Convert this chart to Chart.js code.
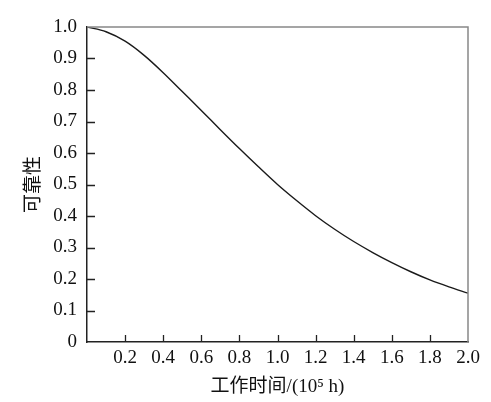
<!DOCTYPE html>
<html>
<head>
<meta charset="utf-8">
<script src="https://cdn.jsdelivr.net/npm/chart.js@4"></script>
<style>
  html, body { margin: 0; padding: 0; background: #fff; }
  #wrap { width: 491px; height: 402px; }
</style>
</head>
<body>
<div id="wrap"><canvas id="c"></canvas></div>
<script>
const hours = [0, 0.1, 0.2, 0.3, 0.4, 0.5, 0.6, 0.7, 0.8, 0.9, 1.0, 1.1, 1.2, 1.3, 1.4, 1.5, 1.6, 1.7, 1.8, 1.9, 2.0];
const reliability = [1.0, 0.985, 0.955, 0.91, 0.855, 0.795, 0.735, 0.674, 0.614, 0.556, 0.5, 0.449, 0.401, 0.358, 0.319, 0.284, 0.252, 0.223, 0.197, 0.175, 0.155];
const xTitle = '工作时间/(10⁵ h)';
const yTitle = '可靠性';

const tickFont = { family: '"Liberation Serif", "Times New Roman", serif', size: 19 };
const cjkFont = { family: '"Liberation Serif", "Noto Sans CJK SC", serif', size: 19 };

// inward tick marks + grey top/right frame
const frame = {
  id: 'frame',
  afterDraw(chart) {
    const { ctx, chartArea: a, scales: { x, y } } = chart;
    ctx.save();
    ctx.strokeStyle = '#888';
    ctx.lineWidth = 1.5;
    ctx.beginPath();
    ctx.moveTo(a.left, a.top);
    ctx.lineTo(a.right, a.top);
    ctx.lineTo(a.right, a.bottom);
    ctx.stroke();

    ctx.strokeStyle = '#222';
    ctx.lineWidth = 1.3;
    ctx.beginPath();
    y.ticks.forEach(t => {
      if (t.value <= 0 || t.value >= 1) return;
      const py = Math.round(y.getPixelForValue(t.value)) + 0.5;
      ctx.moveTo(a.left, py);
      ctx.lineTo(a.left + 8, py);
    });
    x.ticks.forEach(t => {
      if (t.value <= 0 || t.value >= 2) return;
      const px = Math.round(x.getPixelForValue(t.value)) + 0.5;
      ctx.moveTo(px, a.bottom);
      ctx.lineTo(px, a.bottom - 7);
    });
    ctx.stroke();
    ctx.restore();
  }
};

new Chart(document.getElementById('c'), {
  type: 'line',
  data: {
    datasets: [{
      data: hours.map((h, i) => ({ x: h, y: reliability[i] })),
      borderColor: '#1a1a1a',
      borderWidth: 1.4,
      pointRadius: 0,
      cubicInterpolationMode: 'monotone',
      fill: false
    }]
  },
  options: {
    responsive: true,
    maintainAspectRatio: false,
    animation: false,
    layout: { padding: { left: 0, top: 27, right: 23, bottom: 0 } },
    plugins: { legend: { display: false }, tooltip: { enabled: false } },
    scales: {
      x: {
        type: 'linear',
        min: 0, max: 2,
        afterFit: s => { s.height = 60; },
        grid: { display: false, drawTicks: false },
        border: { display: true, color: '#222', width: 1.5 },
        ticks: {
          stepSize: 0.2,
          padding: 5,
          color: '#111',
          font: tickFont,
          maxRotation: 0,
          callback: v => v === 0 ? '' : v.toFixed(1)
        },
        title: { display: true, text: xTitle, color: '#111', font: cjkFont, padding: { top: 0, bottom: 4 } }
      },
      y: {
        min: 0, max: 1,
        afterFit: s => { s.width = 87; },
        grid: { display: false, drawTicks: false },
        border: { display: true, color: '#222', width: 1.5 },
        ticks: {
          stepSize: 0.1,
          padding: 10,
          color: '#111',
          font: tickFont,
          callback: v => v === 0 ? '0' : v.toFixed(1)
        },
        title: { display: true, text: yTitle, color: '#111', font: { family: '"Noto Sans CJK SC", serif', size: 19 }, padding: { top: 20, bottom: 0 } }
      }
    }
  },
  plugins: [frame]
});
</script>
</body>
</html>
